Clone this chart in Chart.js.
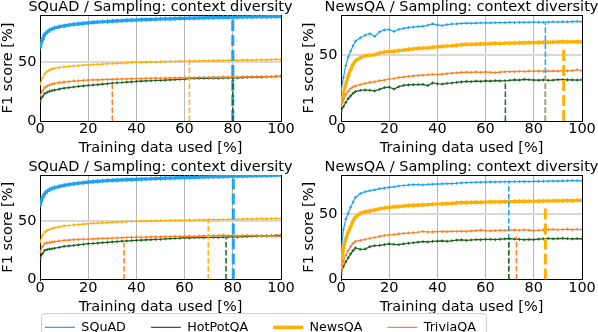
<!DOCTYPE html>
<html>
<head>
<meta charset="utf-8">
<script src="https://cdn.jsdelivr.net/npm/chart.js@4.4.1/dist/chart.umd.min.js"></script>
<style>
  html, body { margin: 0; padding: 0; background: #fff; overflow: hidden; width: 598px; height: 332px; }
  canvas { position: absolute; }
  .legend-box { position: absolute; left: 41px; top: 313px; width: 446px; height: 30px;
    border: 1px solid #d0d0d0; border-radius: 4px; box-sizing: border-box; }
</style>
</head>
<body>
<canvas id="tl" width="321" height="160" style="left:0;top:0"></canvas>
<canvas id="tr" width="321" height="160" style="left:301px;top:0"></canvas>
<canvas id="bl" width="321" height="159" style="left:0;top:160px"></canvas>
<canvas id="br" width="321" height="159" style="left:301px;top:160px"></canvas>
<div class="legend-box"></div>
<canvas id="lg" width="560" height="80" style="left:20px;top:296px"></canvas>
<script>
// x positions (training data used, %)
const X = [0, 1, 2, 3, 4, 5, 6,
  8, 10, 12, 14, 16, 18, 20, 22, 24, 26,
  28, 30, 32, 34, 36, 38, 40, 42, 44, 46,
  48, 50, 52, 54, 56, 58, 60, 62, 64, 66,
  68, 70, 72, 74, 76, 78, 80, 82, 84, 86,
  88, 90, 92, 94, 96, 98, 100];

const NAMES = ["SQuAD", "HotPotQA", "NewsQA", "TriviaQA"];
const COLORS = ["#1fa2f2", "#1d6322", "#ffb000", "#ff7f1f"];
const X_TICKS = [0, 20, 40, 60, 80, 100];
const Y_TICKS = [0, 50];

// --- top left: SQuAD
const tlSquad = [62, 69, 73.5, 75.5, 77, 78, 78.8,
  79.8, 80.6, 81.3, 81.8, 82.3, 82.7, 83.1, 83.5, 83.8, 84.1,
  84.3, 84.6, 84.8, 85.0, 85.3, 85.4, 85.5, 85.8, 85.9, 86.0,
  86.2, 86.4, 86.5, 86.6, 86.8, 86.9, 87.0, 87.1, 87.2, 87.3,
  87.4, 87.5, 87.6, 87.7, 87.8, 87.8, 87.9, 88.0, 88.1, 88.1,
  88.2, 88.3, 88.3, 88.4, 88.4, 88.5, 88.6];
const tlHot = [16.5, 20.5, 23.2, 24.4, 25.2, 25.7, 26.2,
  27.0, 27.8, 28.3, 28.8, 29.3, 29.7, 30.1, 30.5, 30.8, 31.2,
  31.6, 32.0, 32.4, 32.6, 32.9, 33.2, 33.5, 33.8, 34.0, 34.1,
  34.3, 34.5, 34.7, 34.9, 35.1, 35.3, 35.5, 35.8, 36.0, 36.2,
  36.1, 36.3, 36.4, 36.2, 36.5, 36.6, 36.7, 36.6, 36.8, 37.0,
  37.1, 37.3, 37.2, 37.5, 37.6, 37.8, 37.9];
const tlNews = [31, 36.5, 40, 42, 43.2, 44, 44.6,
  45.3, 45.8, 46.2, 46.6, 47.0, 47.3, 47.6, 47.8, 48.0, 48.2,
  48.5, 48.6, 48.9, 49.0, 49.2, 49.6, 49.8, 49.7, 49.9, 50.1,
  50.0, 50.3, 50.2, 50.5, 50.4, 50.7, 50.6, 50.8, 50.9, 51.0,
  51.1, 50.9, 51.2, 51.3, 51.2, 51.4, 51.5, 51.4, 51.6, 51.7,
  51.6, 51.8, 51.9, 51.8, 52.0, 52.2, 52.0];
const tlTrivia = [21.5, 25.5, 28.2, 29.6, 30.6, 31.3, 31.8,
  32.5, 33.0, 33.4, 33.8, 34.1, 34.4, 34.6, 34.8, 34.9, 35.1,
  35.2, 35.3, 35.5, 35.6, 35.7, 35.8, 36.0, 35.9, 36.1, 36.2,
  36.3, 36.2, 36.4, 36.5, 36.6, 36.5, 36.7, 36.8, 36.7, 36.9,
  37.0, 36.9, 37.1, 37.0, 37.2, 37.1, 37.3, 37.2, 37.4, 37.3,
  37.5, 37.4, 37.6, 37.5, 37.7, 37.6, 37.8];
const tlCutX = [80, 80, 62, 30];
const tlCutY = [88, 36.7, 51, 31];

// --- top right: NewsQA
const trSquad = [22, 33, 42, 48.5, 53, 57, 60.5,
  63.0, 65.0, 66.2, 64.0, 67.5, 69.0, 69.3, 67.8, 69.5, 70.2,
  70.8, 71.2, 71.5, 71.8, 72.5, 73.6, 72.8, 72.3, 73.0, 73.5,
  73.6, 73.9, 74.1, 74.0, 74.2, 74.3, 74.4, 74.3, 74.5, 74.6,
  74.5, 74.7, 74.6, 74.8, 74.7, 74.8, 74.9, 74.8, 74.7, 75.0,
  75.1, 75.0, 75.2, 75.1, 75.3, 75.4, 75.3];
const trHot = [7, 11, 14, 17, 19, 21, 22.3,
  23.2, 23.5, 23.3, 22.8, 24.0, 25.3, 25.6, 24.2, 26.0, 27.0,
  27.3, 27.5, 27.6, 27.8, 26.8, 28.8, 28.2, 28.0, 28.5, 28.8,
  29.2, 29.6, 30.0, 29.8, 30.2, 30.0, 30.4, 30.2, 30.6, 30.4,
  30.5, 30.8, 31.2, 31.0, 31.6, 31.3, 31.0, 30.9, 31.1, 30.8,
  31.0, 31.3, 31.4, 31.2, 31.1, 31.0, 31.2];
const trNews = [13, 21, 28, 34, 39, 43, 45.5,
  48.0, 49.3, 49.8, 50.2, 51.5, 52.3, 52.6, 52.8, 53.4, 53.8,
  54.3, 54.6, 55.0, 55.3, 55.3, 55.8, 56.2, 56.5, 56.8, 57.0,
  57.3, 57.8, 58.0, 58.1, 58.2, 58.4, 58.5, 58.6, 58.8, 58.7,
  58.9, 59.0, 59.1, 59.2, 59.2, 59.4, 59.3, 59.5, 59.6, 59.7,
  59.8, 59.9, 60.1, 59.9, 60.0, 60.1, 60.0];
const trTrivia = [11, 16, 20, 22.5, 24.5, 25.8, 26.5,
  27.5, 28.5, 29.2, 29.8, 30.5, 31.0, 31.8, 32.2, 33.0, 33.3,
  33.8, 34.2, 34.5, 34.8, 35.0, 35.4, 35.2, 35.5, 35.9, 36.2,
  36.5, 36.8, 37.0, 36.8, 37.1, 36.9, 37.2, 36.9, 36.6, 37.0,
  37.3, 37.5, 37.4, 37.6, 37.5, 37.8, 37.7, 37.9, 37.6, 37.8,
  38.0, 37.8, 38.1, 38.0, 38.2, 38.8, 38.0];
const trCutX = [84.8, 68.2, 92.4, 84.8];
const trCutY = [74.6, 28.5, 56, 36];

// --- bottom left: SQuAD
const blSquad = [63.2, 69.5, 73.2, 75.3, 76.6, 77.5, 78.2,
  79.2, 80.2, 80.9, 81.5, 82.0, 82.5, 83.0, 83.3, 83.6, 83.9,
  84.2, 84.4, 84.6, 84.8, 85.0, 85.1, 85.3, 85.5, 85.6, 85.8,
  86.0, 86.1, 86.3, 86.4, 86.5, 86.7, 86.8, 86.9, 87.0, 87.2,
  87.3, 87.4, 87.5, 87.6, 87.7, 87.9, 88.0, 88.1, 88.1, 88.2,
  88.3, 88.4, 88.5, 88.6, 88.7, 88.8, 88.9];
const blHot = [17.7, 22.0, 24.8, 25.5, 25.9, 26.2, 26.6,
  27.4, 28.2, 28.6, 29.0, 29.5, 30.0, 30.5, 30.7, 31.0, 31.4,
  31.7, 32.0, 32.3, 32.6, 32.8, 33.1, 33.3, 33.5, 33.7, 33.9,
  34.1, 34.3, 34.6, 34.8, 35.0, 35.2, 35.6, 35.4, 35.7, 35.8,
  35.6, 35.9, 36.0, 35.8, 36.1, 36.2, 36.3, 36.2, 36.5, 36.6,
  36.8, 37.0, 37.1, 37.3, 37.4, 37.5, 37.6];
const blNews = [31.9, 37.5, 40.4, 41.8, 42.6, 43.3, 43.9,
  44.8, 45.6, 46.0, 46.4, 46.8, 47.2, 47.6, 47.8, 48.0, 48.3,
  48.5, 48.7, 48.9, 49.1, 49.3, 49.4, 49.6, 49.8, 49.7, 49.9,
  50.0, 50.2, 50.1, 50.3, 50.4, 50.3, 50.5, 50.6, 50.5, 50.7,
  50.8, 50.9, 51.0, 50.9, 51.1, 51.2, 51.5, 51.3, 51.4, 51.6,
  51.5, 51.7, 51.8, 51.6, 51.9, 52.0, 51.9];
const blTrivia = [23.3, 28.0, 30.5, 31.2, 31.6, 31.9, 32.2,
  32.8, 33.3, 33.6, 33.9, 34.1, 34.3, 34.4, 34.6, 34.8, 35.0,
  35.1, 35.3, 35.4, 35.6, 35.8, 35.9, 36.2, 36.0, 36.1, 36.3,
  36.4, 36.3, 36.5, 36.6, 36.8, 36.7, 36.8, 36.9, 36.7, 37.0,
  37.1, 37.0, 37.3, 37.4, 37.8, 37.3, 37.5, 37.2, 37.4, 37.6,
  37.3, 37.5, 37.2, 37.0, 37.1, 36.9, 36.8];
const blCutX = [80.2, 77.2, 69.8, 34.9];
const blCutY = [87.5, 35.6, 51, 31.4];

// --- bottom right: NewsQA
const brSquad = [20, 38, 46, 50.5, 55, 59, 62.5,
  65.5, 66.8, 67.7, 68.3, 69.2, 69.6, 70.2, 70.6, 71.2, 71.6,
  72.0, 72.2, 72.3, 72.0, 72.4, 72.6, 72.7, 72.9, 73.0, 73.1,
  73.3, 73.6, 73.8, 73.9, 74.0, 74.1, 74.2, 74.3, 74.3, 74.4,
  74.5, 74.6, 74.5, 74.6, 74.7, 74.6, 74.7, 74.8, 74.8, 74.9,
  75.0, 75.0, 75.1, 75.2, 75.4, 75.3, 75.1];
const brHot = [4, 10, 13.5, 16.5, 19.5, 22, 24,
  23.0, 23.2, 25.0, 25.8, 26.0, 26.5, 27.2, 26.8, 26.5, 27.2,
  27.6, 28.0, 28.4, 28.8, 28.6, 29.0, 29.2, 29.4, 29.1, 29.5,
  30.0, 30.2, 29.8, 30.1, 30.4, 30.3, 30.5, 30.6, 30.4, 30.7,
  30.9, 31.2, 30.8, 30.6, 30.3, 30.5, 30.4, 30.7, 31.0, 31.3,
  31.0, 31.2, 31.4, 31.1, 30.9, 31.2, 31.0];
const brNews = [8, 24, 31, 36, 40.5, 44.5, 47.5,
  50.5, 51.5, 52.3, 53.0, 53.8, 54.4, 55.0, 55.3, 55.6, 55.9,
  56.2, 56.4, 56.6, 56.8, 57.0, 57.3, 57.5, 57.6, 57.8, 58.0,
  58.3, 58.5, 58.6, 58.7, 58.8, 58.8, 59.0, 59.1, 59.2, 59.2,
  59.3, 59.3, 59.4, 59.5, 59.5, 59.6, 59.6, 59.7, 59.8, 59.8,
  59.9, 59.9, 60.0, 60.1, 60.1, 60.2, 60.3];
const brTrivia = [7, 14, 18.5, 22, 25, 27.5, 29,
  29.8, 30.5, 31.4, 32.0, 32.8, 33.5, 34.0, 34.2, 34.8, 35.1,
  35.4, 35.6, 36.0, 36.6, 36.2, 36.3, 36.5, 36.6, 36.4, 36.7,
  36.6, 36.8, 36.7, 37.0, 37.3, 37.6, 37.2, 37.0, 37.3, 37.5,
  37.4, 37.6, 37.8, 37.5, 37.9, 37.6, 37.3, 37.5, 37.8, 38.0,
  38.2, 37.9, 38.1, 38.3, 38.0, 38.2, 38.1];
const brCutX = [69.6, 69.6, 84.8, 72.8];
const brCutY = [75.2, 32, 55.5, 33];

Chart.defaults.font.family = "'DejaVu Sans', sans-serif";
Chart.defaults.color = "#000";

const FS = 14.5;
const font = { size: FS, lineHeight: 1 };

function panel(id, title, series, cutX, cutY, yMax, thick, axisH) {
  const datasets = [];
  series.forEach((ys, i) => {
    const w = i === thick;
    datasets.push({
      label: NAMES[i],
      data: X.map((x, k) => ({ x, y: ys[k] })),
      borderColor: COLORS[i],
      backgroundColor: COLORS[i],
      borderWidth: w ? 3.2 : 1.2,
      pointStyle: "cross",
      pointRadius: w ? 2.4 : 1.5,
      pointBorderWidth: 1,
      pointBorderColor: COLORS[i],
      tension: 0,
      order: 8 - i,
    });
  });
  // dashed markers, one per series
  series.forEach((_, i) => {
    const w = i === thick;
    datasets.push({
      label: NAMES[i] + " mark",
      data: [{ x: cutX[i], y: 0 }, { x: cutX[i], y: cutY[i] }],
      borderColor: COLORS[i],
      borderWidth: w ? 3 : 1.5,
      borderDash: w ? [11, 4] : [5.5, 2.5],
      pointRadius: 0,
      order: 4 - i,
    });
  });

  new Chart(document.getElementById(id), {
    type: "line",
    data: { datasets },
    options: {
      responsive: false,
      animation: false,
      layout: { padding: 0 },
      plugins: {
        legend: { display: false },
        tooltip: { enabled: false },
        title: {
          display: true, text: title, color: "#000",
          font: { size: FS, weight: "normal", lineHeight: 1 },
          padding: { top: 0, bottom: 0.5 },
        },
      },
      scales: {
        x: {
          type: "linear", position: "bottom", min: 0, max: 100,
          afterBuildTicks: (s) => { s.ticks = X_TICKS.map((v) => ({ value: v })); },
          ticks: { padding: 1, font, maxRotation: 0, autoSkip: false },
          grid: { color: "#b8b8b8", lineWidth: 1, drawTicks: false },
          border: { color: "#000", width: 1 },
          title: { display: true, text: "Training data used [%]", font, padding: { top: 0, bottom: 5 } },
          afterFit: (s) => { s.height = axisH; },
        },
        y: {
          type: "linear", position: "left", min: 0, max: yMax,
          afterBuildTicks: (s) => { s.ticks = Y_TICKS.map((v) => ({ value: v })); },
          ticks: { padding: 3.5, font },
          grid: {
            color: (c) => (c.tick && c.tick.value === 50 ? "#d9d9d9" : "rgba(0,0,0,0)"),
            lineWidth: 2, drawTicks: false,
          },
          border: { color: "#000", width: 1 },
          title: { display: true, text: "F1 score [%]", font, padding: { top: 1, bottom: 0 } },
          afterFit: (s) => { s.width = 40; },
        },
        // frame: top and right spines
        x2: {
          type: "linear", position: "top", min: 0, max: 100,
          ticks: { display: false }, grid: { display: false, drawTicks: false },
          border: { color: "#000", width: 1 },
          afterFit: (s) => { s.height = 0; },
        },
        y2: {
          type: "linear", position: "right", min: 0, max: yMax,
          ticks: { display: false }, grid: { display: false, drawTicks: false },
          border: { color: "#000", width: 1 },
          afterFit: (s) => { s.width = 40; },
        },
      },
    },
  });
}

const T_SQ = "SQuAD / Sampling: context diversity";
const T_NW = "NewsQA / Sampling: context diversity";
panel("tl", T_SQ, [tlSquad, tlHot, tlNews, tlTrivia], tlCutX, tlCutY, 89.8, 0, 39);
panel("tr", T_NW, [trSquad, trHot, trNews, trTrivia], trCutX, trCutY, 80.3, 2, 39);
panel("bl", T_SQ, [blSquad, blHot, blNews, blTrivia], blCutX, blCutY, 89, 0, 39.5);
panel("br", T_NW, [brSquad, brHot, brNews, brTrivia], brCutX, brCutY, 79.6, 2, 39.5);

// shared legend
new Chart(document.getElementById("lg"), {
  type: "line",
  data: {
    datasets: NAMES.map((n, i) => ({
      label: n,
      data: [],
      borderColor: COLORS[i],
      backgroundColor: COLORS[i],
      pointStyle: "line",
      pointBorderColor: COLORS[i],
      pointBorderWidth: i === 2 ? 3.5 : 1.2,
    })),
  },
  options: {
    responsive: false,
    animation: false,
    layout: { padding: 0 },
    plugins: {
      tooltip: { enabled: false },
      legend: {
        display: true, position: "top", align: "start",
        labels: {
          usePointStyle: true, pointStyleWidth: 30, padding: 25,
          color: "#000", font: { size: 12.7, lineHeight: 1 },
        },
      },
    },
    scales: { x: { display: false }, y: { display: false } },
  },
});
</script>
</body>
</html>
